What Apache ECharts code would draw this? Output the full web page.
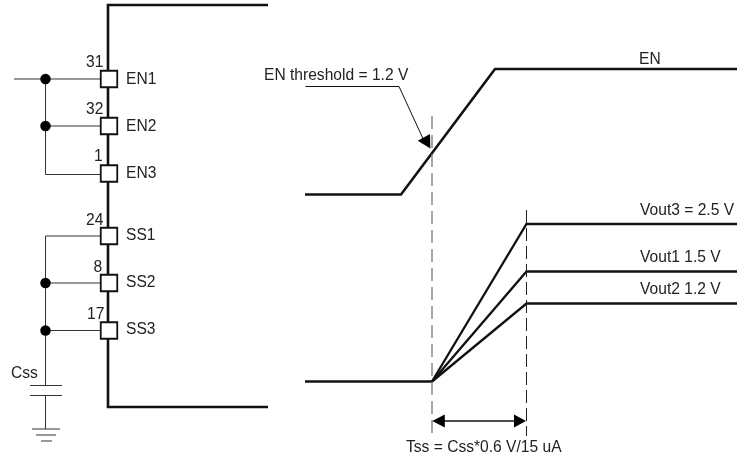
<!DOCTYPE html>
<html><head><meta charset="utf-8">
<style>html,body{margin:0;padding:0;background:#fff}#c{width:737px;height:458px}</style>
<script src="https://cdn.jsdelivr.net/npm/echarts@6/dist/echarts.min.js"></script>
</head><body><div id="c"></div>
<script>
// Diagram geometry in the diagram's own units
const busPath = [[268,5],[108,5],[108,407],[268,407]];
const enTrace = [[305,194.5],[401,194.5],[495,69],[737,69]];
const baseTrace = [[305,381.5],[432,381.5]];
const vout3Trace = [[432,381.5],[526.5,224],[737,224]];
const vout1Trace = [[432,381.5],[526.5,271.5],[737,271.5]];
const vout2Trace = [[432,381.5],[526.5,303.5],[737,303.5]];
const enWires = [
  [[14,79],[100,79]],
  [[45.5,79],[45.5,174.5],[100,174.5]],
  [[45.5,126],[100,126]]
];
const ssWires = [
  [[100,236],[45.5,236],[45.5,385.5]],
  [[45.5,283],[100,283]],
  [[45.5,330.5],[100,330.5]],
  [[45.5,395.5],[45.5,429]]
];
const capPlates = [[[30,385.5],[62,385.5]],[[30,395.5],[62,395.5]]];
const groundBars = [[[32,429],[60,429]],[[36,435],[56,435]],[[41,441],[52,441]]];
const leader = [[305.5,86.5],[399,86.5],[425,143]];
const spanLine = [[440,421],[518,421]];
const thresholdDash = [[432,116],[432,437]];
const settledDash = [[526.5,210],[526.5,436]];
const arrowHeads = [
  [[417.7,140.7],[430,134],[430.4,148.4]],
  [[432.3,421],[444.8,414.5],[444.8,427.5]],
  [[526,421],[514,414.5],[514,427.5]]
];
const pinBoxes = [[109,79],[109,126],[109,173.5],[109,236],[109,283],[109,330.5]];
const junctions = [[45.5,79],[45.5,126],[45.5,283],[45.5,330.5]];
const pinNumbers = [['31',86,62.5],['32',86,109.5],['1',94,157],['24',86,220.5],['8',93.5,267.5],['17',87,314.5]];
const pinNames = [['EN1',126,80],['EN2',126,126.5],['EN3',126,174],['SS1',126,236],['SS2',126,283],['SS3',126,330]];
const notes = [['Css',11,374],['EN threshold = 1.2 V',264,75.5],['EN',639,59.5],
  ['Vout3 = 2.5 V',640,211],['Vout1 1.5 V',640,258],['Vout2 1.2 V',640,290],
  ['Tss = Css*0.6 V/15 uA',406,447.5]];
const allText = [...pinNumbers,...pinNames,...notes];

const INK = '#111';
const WIRE = '#333';
const line = (data, width, color, type) => ({
  type:'line', data, showSymbol:false, symbol:'none', silent:true, clip:false, z:2,
  lineStyle:{width, color, type:type||'solid', join:'miter', cap:'butt'}
});
const thick = 2.6, thin = 1;
const series = [
  line(busPath, thick, INK),
  line(enTrace, thick, INK), line(baseTrace, thick, INK),
  line(vout3Trace, thick-0.3, INK), line(vout1Trace, thick-0.3, INK), line(vout2Trace, thick-0.3, INK),
  ...enWires.map(d=>line(d,thin,WIRE)),
  ...ssWires.map(d=>line(d,thin,WIRE)),
  ...capPlates.map(d=>line(d,thin,WIRE)),
  ...groundBars.map(d=>line(d,thin,WIRE)),
  line(leader,thin,INK),
  line(spanLine,1.6,INK),
  line(thresholdDash,1.3,'#777',[13,6]),
  line(settledDash,1,'#222',[13,5]),
  {type:'custom', coordinateSystem:'cartesian2d', silent:true, clip:false, z:4, data:arrowHeads.map((p,i)=>[i]),
   renderItem:(params,api)=>({type:'polygon',
     shape:{points:arrowHeads[params.dataIndex].map(p=>api.coord(p))},
     style:{fill:'#000'}})},
  {type:'scatter', data:pinBoxes, symbol:'rect', symbolSize:16.5, silent:true, z:5, clip:false,
   itemStyle:{color:'#fff',borderColor:'#111',borderWidth:1.8,opacity:1}},
  {type:'scatter', data:junctions, symbol:'circle', symbolSize:10.5, silent:true, z:5, clip:false,
   itemStyle:{color:'#000',opacity:1}},
  {type:'custom', coordinateSystem:'cartesian2d', silent:true, clip:false, z:6,
   data:allText.map(t=>[t[1],t[2]]),
   encode:{x:0,y:1},
   renderItem:(params,api)=>{
     const c = api.coord([api.value(0),api.value(1)]);
     return {type:'text', x:c[0], y:c[1], style:{text:allText[params.dataIndex][0], fill:'#222',
       font:'15.6px "Liberation Sans"', textAlign:'left', textVerticalAlign:'middle'}};
   }}
];
const chart = echarts.init(document.getElementById('c'),null,{renderer:'canvas'});
chart.setOption({
  animation:false, backgroundColor:'#fff',
  grid:{left:0,right:0,top:0,bottom:0},
  xAxis:{type:'value',min:0,max:737,show:false},
  yAxis:{type:'value',min:0,max:458,inverse:true,show:false},
  series
});
</script></body></html>
